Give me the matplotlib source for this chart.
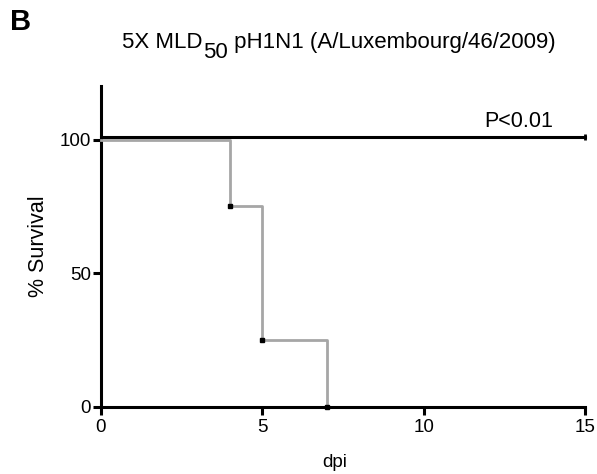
import matplotlib.pyplot as plt
import matplotlib.transforms as mtrans

plt.rcParams["font.family"] = ["Liberation Sans", "DejaVu Sans"]

# survival data (dpi vs % survival)
ctrlDays = [0, 15]
ctrlSurv = [100, 100]
infDays  = [0, 4, 5, 7]
infSurv  = [100, 75, 25, 0]
censDays = [4, 5, 7]
censSurv = [75, 25, 0]

xTicks = [0, 5, 10, 15]
yTicks = [0, 50, 100]

fig = plt.figure(figsize=(5.97, 4.74), dpi=100)
ax = fig.add_axes([0.169, 0.1414, 0.811, 0.677])

# small upward shift so the black line does not hide the grey one
shift = mtrans.offset_copy(ax.transData, fig=fig, x=0, y=1.6, units="points")

ax.step(infDays, infSurv, where="post", color="#a6a6a6", lw=2.0, clip_on=False, zorder=3)
ax.plot(censDays, censSurv, "s", color="black", ms=2.5, clip_on=False, zorder=4)
ax.plot(ctrlDays, ctrlSurv, color="black", lw=2.2, transform=shift, clip_on=False, zorder=5)
ax.plot([ctrlDays[-1]], [ctrlSurv[-1]], marker="|", color="black", ms=5, mew=2.0,
        transform=shift, clip_on=False, zorder=5)

ax.set_xlim(0, 15)
ax.set_ylim(0, 120)
ax.set_xticks(xTicks)
ax.set_yticks(yTicks)
ax.tick_params(direction="out", length=6, width=2.2, labelsize=13.5)
ax.tick_params(axis="x", pad=3)
ax.tick_params(axis="y", pad=1)

for s in ["top", "right"]:
  ax.spines[s].set_visible(False)
for s in ["left", "bottom"]:
  ax.spines[s].set_linewidth(2.2)

ax.set_xlabel("dpi", fontsize=13.5)
ax.xaxis.set_label_coords(0.483, -0.145)
ax.set_ylabel("% Survival", fontsize=15.5)
ax.yaxis.set_label_coords(-0.107, 0.5)

ax.text(14.0, 104.8, "P<0.01", ha="right", va="baseline", fontsize=15.5)

# title with full-size lowered subscript
tSize = 16
t1 = fig.text(122 / 597, 0.899, "5X MLD", ha="left", va="baseline", fontsize=tSize)
t2 = ax.annotate("50", xy=(1, 0), xycoords=t1, xytext=(0.5, -7.5), textcoords="offset points",
                 ha="left", va="bottom", fontsize=tSize, annotation_clip=False)
t3 = ax.annotate(" pH1N1 (A/Luxembourg/46/2009)", xy=(1, 0), xycoords=t2, xytext=(0, 7.5),
                 textcoords="offset points", ha="left", va="bottom", fontsize=tSize,
                 annotation_clip=False)

fig.text(10 / 597, 0.953, "B", ha="left", va="center", fontsize=21, fontweight="bold")

fig.savefig("out.png", dpi=100)
